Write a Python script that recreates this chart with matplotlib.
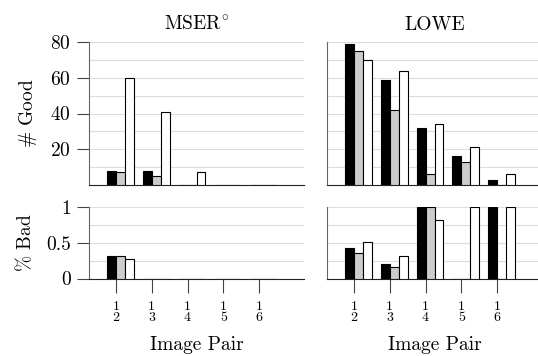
import matplotlib
matplotlib.use("Agg")
import matplotlib.pyplot as plt
import numpy as np

plt.rcParams['font.family'] = ['cmr10', 'DejaVu Serif']
plt.rcParams['mathtext.fontset'] = 'cm'
plt.rcParams['axes.formatter.use_mathtext'] = True

pairs = ['1\n2', '1\n3', '1\n4', '1\n5', '1\n6']
titles = [r'MSER$^{\circ}$', 'LOWE']

mser_good = {'black': [8, 8, 0, 0, 0], 'gray': [7, 5, 0, 0, 0], 'white': [60, 41, 7, 0, 0]}
lowe_good = {'black': [79, 59, 32, 16, 3], 'gray': [75, 42, 6, 13, 0], 'white': [70, 64, 34, 21, 6]}
mser_bad = {'black': [0.31, 0, 0, 0, 0], 'gray': [0.31, 0, 0, 0, 0], 'white': [0.27, 0, 0, 0, 0]}
lowe_bad = {'black': [0.43, 0.20, 1.0, 0, 1.0], 'gray': [0.36, 0.16, 1.0, 0, 0], 'white': [0.51, 0.32, 0.82, 1.0, 1.0]}

colors = {'black': '#000000', 'gray': '#cccccc', 'white': '#ffffff'}
offsets = {'black': -0.125, 'gray': 0.125, 'white': 0.375}
W = 538; H = 356
FS = 14
fig = plt.figure(figsize=(W/100, H/100), dpi=100)

def ax_at(x0, y0, x1, y1):
    return fig.add_axes([x0/W, 1-y1/H, (x1-x0)/W, (y1-y0)/H])

axes = {
    (0, 0): ax_at(89, 42, 304, 185),
    (0, 1): ax_at(327, 42, 542, 185),
    (1, 0): ax_at(89, 207, 304, 278.5),
    (1, 1): ax_at(327, 207, 542, 278.5),
}
data = {(0, 0): mser_good, (0, 1): lowe_good, (1, 0): mser_bad, (1, 1): lowe_bad}
x = np.arange(1, len(pairs) + 1)

for (r, c), ax in axes.items():
    d = data[(r, c)]
    for k in ['black', 'gray', 'white']:
        ax.bar(x + offsets[k], d[k], width=0.25, color=colors[k], edgecolor='black', linewidth=0.8, zorder=3)
    ax.set_xlim(0.25, 6.25)
    for s in ['top', 'right']:
        ax.spines[s].set_visible(False)
    ax.spines['left'].set_color('#666666')
    ax.spines['bottom'].set_color('#222222')
    if r == 0:
        ax.set_ylim(0, 80)
        ax.set_yticks([20, 40, 60, 80])
        ax.set_yticks(np.arange(10, 81, 10), minor=True)
        ax.set_title(titles[c], fontsize=FS, pad=9)
        ax.set_xticks([])
    else:
        ax.set_ylim(0, 1)
        ax.set_yticks([0, 0.5, 1])
        ax.set_yticklabels(['0', '0.5', '1'])
        ax.set_yticks([0.25, 0.75], minor=True)
        ax.set_xticks(x)
        ax.set_xticklabels(pairs, fontsize=10, linespacing=0.85)
        ax.tick_params(axis='x', length=10, width=0.8, color='#444444', pad=6)
        ax.set_xlabel('Image Pair', fontsize=FS, labelpad=9)
    ax.yaxis.grid(True, which='both', color='#dddddd', linewidth=0.8, zorder=0)
    ax.set_axisbelow(True)
    ax.tick_params(axis='y', which='minor', length=0)
    if c == 0:
        ax.tick_params(axis='y', which='major', length=9, width=0.8, color='#444444', labelsize=FS, pad=4)
    else:
        ax.tick_params(axis='y', which='major', length=0, labelleft=False)

axes[(0, 0)].set_ylabel(r'$\#$ Good', fontsize=FS, labelpad=8)
axes[(1, 0)].set_ylabel(r'$\%$ Bad', fontsize=FS, labelpad=8)

fig.savefig('out.png', dpi=100)
